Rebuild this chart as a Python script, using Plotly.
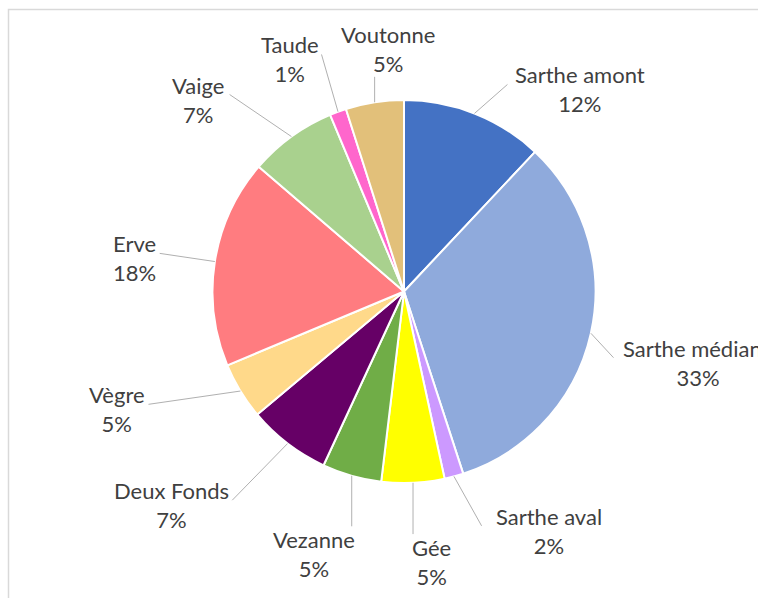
import math
import plotly.graph_objects as go

# ---- data ----
names = ["Sarthe amont", "Sarthe médiane", "Sarthe aval", "Gée", "Vezanne",
         "Deux Fonds", "Vègre", "Erve", "Vaige", "Taude", "Voutonne"]
values = [12.0, 33.0, 1.6, 5.3, 5.0, 7.0, 4.8, 17.6, 7.4, 1.4, 4.9]
colors = ["#4472C4", "#8FAADC", "#CC99FF", "#FFFF00", "#70AD47",
          "#660066", "#FFD98A", "#FF7C80", "#A9D18E", "#FF66CC", "#E2C07A"]

# label layout style (angle nudge in degrees, distance in pie radii)
label_shift = [19.5, 1, -16, -3, 3, 10, 9, -2, -11, -6, 5]
label_dist = [1.40, 1.58, 1.46, 1.42, 1.45, 1.65, 1.62, 1.42, 1.47, 1.35, 1.27]

W, H = 758, 598
CX, CY, R = 404, 291.5, 191.5  # pie centre / radius in pixels

fig = go.Figure(go.Pie(
    labels=names, values=values, sort=False, direction="clockwise", rotation=0,
    marker=dict(colors=colors, line=dict(color="white", width=2)),
    textinfo="none", showlegend=False,
    domain=dict(x=[(CX - R) / W, (CX + R) / W],
                y=[(H - CY - R) / H, (H - CY + R) / H]),
))

def px2paper(x, y):
    return x / W, 1 - y / H

total = sum(values)
cum = 0.0
annotations = []
shapes = [dict(type="rect", xref="paper", yref="paper",
               x0=8.5 / W, x1=1.2, y0=-0.2, y1=1 - 9.5 / H,
               line=dict(color="#D9D9D9", width=1.5), fillcolor="rgba(0,0,0,0)")]
for i, (n, v) in enumerate(zip(names, values)):
    mid = (cum + v / 2) / total * 360
    cum += v
    pct = round(v / total * 100)
    la = math.radians(mid + label_shift[i])
    lx = CX + R * label_dist[i] * math.sin(la)
    ly = CY - R * label_dist[i] * math.cos(la)
    ax, ay = px2paper(lx, ly)
    annotations.append(dict(
        x=ax, y=ay, xref="paper", yref="paper", showarrow=False,
        text=f"{n}<br>{pct}%", xanchor="center", yanchor="middle",
        font=dict(family="Lato, Calibri, sans-serif", size=22, color="#404040"),
    ))
    # leader line from slice edge to the label
    m = math.radians(mid)
    px_, py_ = CX + R * math.sin(m), CY - R * math.cos(m)
    hw = len(n) * 5.9 + 2
    hh = 28
    if lx - hw <= px_ <= lx + hw:
        qx = px_
        qy = ly + hh if py_ > ly else ly - hh
    else:
        qx = lx + hw if px_ > lx else lx - hw
        qy = ly - 5
    if math.hypot(qx - px_, qy - py_) > 6:
        x0, y0 = px2paper(px_, py_)
        x1, y1 = px2paper(qx, qy)
        shapes.append(dict(type="line", xref="paper", yref="paper",
                           x0=x0, y0=y0, x1=x1, y1=y1,
                           line=dict(color="#B0B0B0", width=1)))

fig.update_layout(
    width=W, height=H, margin=dict(l=0, r=0, t=0, b=0),
    paper_bgcolor="white", plot_bgcolor="white",
    annotations=annotations, shapes=shapes,
)
fig.write_html("out.html", config={"displayModeBar": False},
               post_script="document.body.style.margin='0';")
